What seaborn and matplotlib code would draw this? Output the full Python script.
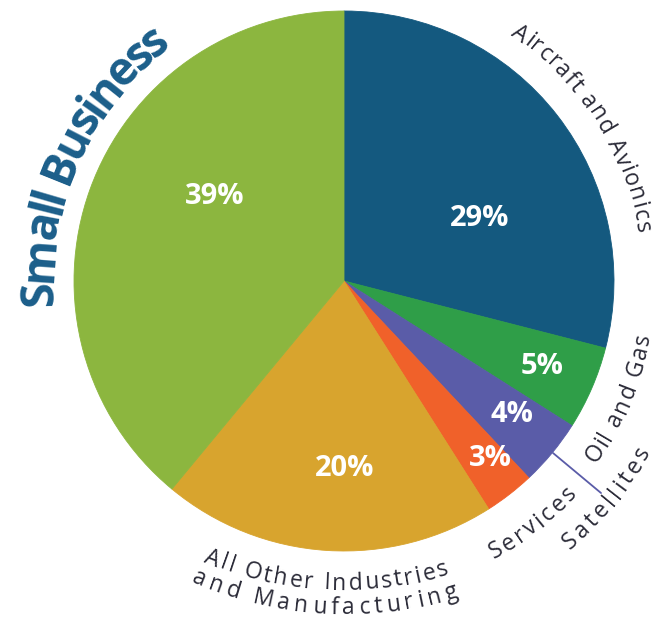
import matplotlib
matplotlib.use("Agg")
import matplotlib.pyplot as plt
import seaborn as sns
import numpy as np
from matplotlib.font_manager import FontProperties

# ---- data ----
sectors = ["Aircraft and Avionics", "Oil and Gas", "Satellites", "Services",
           "All Other Industries and Manufacturing", "Small Business"]
shares = [29, 5, 4, 3, 20, 39]
pct_labels = ["29%", "5%", "4%", "3%", "20%", "39%"]
slice_colors = ["#14597f", "#2f9e48", "#5a5ca8", "#f0612a", "#d8a42e", "#8cb63f"]

# ---- layout (pixels, screen coords) ----
W, H = 658, 622
CX, CY, R = 344, 281, 270
pct_pos = [(480, 218), (542, 367), (512, 415), (490, 458), (345, 468), (215, 197)]
# curved labels: text, first-char angle, last-char angle, baseline radius,
#                arc centre y (screen), size, weight, color
curved = [
    ("Small Business", 182.2, 128.2, 292, CY, 33, "bold", "#1b5e8a"),
    ("Aircraft and Avionics", 54.6, 10.3, 297, CY, 16.5, "normal", "#2b2b38"),
    ("Oil and Gas", -34.5, -11.0, 311, CY, 16.5, "normal", "#2b2b38"),
    ("Satellites", -48.9, -30.0, 351, CY, 16.5, "normal", "#2b2b38"),
    ("Services", -60.6, -43.5, 316, CY, 16.5, "normal", "#2b2b38"),
    ("All Other Industries", -111.7, -73.9, 362, 228, 16.5, "normal", "#2b2b38"),
    ("and Manufacturing", -112.4, -73.6, 386, 228, 16.5, "normal", "#2b2b38"),
]
leader = [(553, 453), (601, 493)]

sns.set_theme(style="white")
plt.rcParams["font.family"] = ["Open Sans", "DejaVu Sans"]

fig = plt.figure(figsize=(W / 100, H / 100), dpi=100)
ax = fig.add_axes([0, 0, 1, 1])
palette = sns.color_palette(slice_colors)
wedges, _ = ax.pie(shares, colors=palette, startangle=90, counterclock=False,
                   center=(CX, H - CY), radius=R, wedgeprops=dict(linewidth=0.6))
for w in wedges:
    w.set_edgecolor(w.get_facecolor())
ax.set_xlim(0, W)
ax.set_ylim(0, H)
ax.set_aspect("equal")
ax.axis("off")

for lab, (x, y) in zip(pct_labels, pct_pos):
    ax.text(x, H - y, lab, ha="center", va="center", color="white",
            fontsize=21, fontweight="bold", family=["Open Sans", "DejaVu Sans"])

renderer = fig.canvas.get_renderer()


def text_w(s, fp):
    w, h, d = renderer.get_text_width_height_descent(s, fp, ismath=False)
    return w


def arc_text(s, a0, a1, rb, cy, size, weight, color):
    fp = FontProperties(family=["Open Sans", "DejaVu Sans"], size=size, weight=weight)
    base = text_w("HH", fp)
    adv = np.array([text_w("H" + c + "H", fp) - base for c in s])
    pos = np.cumsum(np.concatenate([[0], adv[:-1]])) + adv / 2
    pos = pos - pos[0]
    n = len(s)
    target = abs(np.radians(a1 - a0)) * rb
    extra = (target - pos[-1]) / (n - 1)
    pos = pos + np.arange(n) * extra
    sign = -1 if a1 < a0 else 1
    for c, p in zip(s, pos):
        if c == " ":
            continue
        th = a0 + sign * np.degrees(p / rb)
        rot = th - 90 if sign < 0 else th + 90
        x = CX + rb * np.cos(np.radians(th))
        y = (H - cy) + rb * np.sin(np.radians(th))
        ax.text(x, y, c, fontproperties=fp, color=color, rotation=rot,
                rotation_mode="anchor", ha="center", va="baseline")


for s, a0, a1, rb, cy, size, weight, color in curved:
    arc_text(s, a0, a1, rb, cy, size, weight, color)

ax.plot([leader[0][0], leader[1][0]], [H - leader[0][1], H - leader[1][1]],
        color="#5a5ca8", lw=1.3)

fig.savefig("out.png", dpi=100)
